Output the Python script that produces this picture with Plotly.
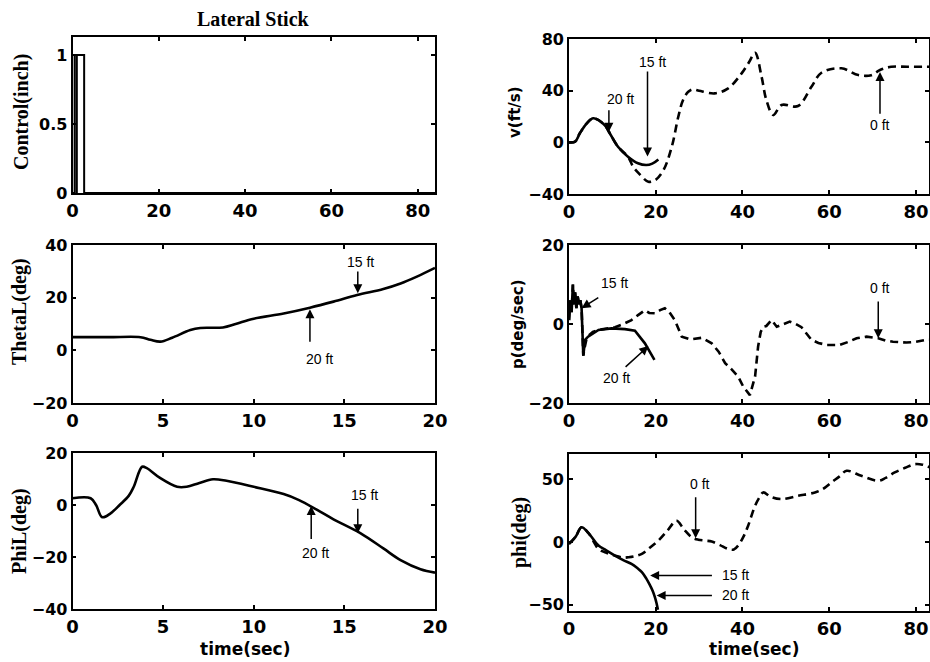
import plotly.graph_objects as go

# ---- data -------------------------------------------------------------
# lateral stick input (inch)
t_ctrl = [0, 0.5, 0.5, 1.0, 1.0, 1.0, 2.7, 2.7, 84]
ctrl = [0, 0, 1, 1, 0, 1, 1, 0, 0]

# lateral velocity v (ft/s)
t_v0 = [0, 1.4, 2.5, 4.1, 5.6, 8.2, 9.2, 11.3, 13.6, 14.8, 16.1, 18.3, 19.9, 21.8, 23.7,
        25.2, 26.3, 27.5, 28.5, 30, 33.6, 36.7, 39.8, 41.5, 42.9, 44.4, 45.5, 47.1, 49,
        52.8, 55.9, 58.2, 62.8, 66.7, 69.7, 71.7, 74.3, 78, 83.2]
v0 = [0, 0.5, 7, 14.7, 18.6, 13.4, 8.2, -3.4, -11.1, -18.9, -24, -30.5, -29.2, -21.4, -3.4,
      19.8, 32.8, 39.2, 41, 40, 37.9, 41.8, 53.4, 62, 69.4, 50.8, 32.8, 21.1, 28.9,
      28.1, 43, 53.9, 57.3, 52.1, 52, 56, 58.5, 58.5, 58.5]
t_v20 = [0, 1.4, 2.5, 4.1, 5.6, 8.2, 9.2, 11.3, 13.6, 15.9, 17.8, 19.2, 20.6]
v20 = [0, 0.5, 7, 14.7, 18.6, 13.4, 8.2, -3.4, -11.1, -16.2, -17.6, -16.5, -13.2]

# load pitch angle ThetaL (deg)
t_th = [0, 2, 3.75, 4.3, 4.85, 5.5, 6.5, 7.05, 8.3, 9, 10, 11.65, 13.1, 14.4, 15.7,
        17.15, 18.1, 19, 20]
theta_l = [5, 5, 5, 4, 3.3, 4.8, 7.7, 8.5, 8.7, 10, 12, 14, 16.2, 18.5, 21,
           23.3, 25.4, 28, 31.3]

# roll rate p (deg/sec)
t_p0 = [0, 0.3, 0.6, 0.9, 1.1, 1.4, 1.7, 2.0, 2.3, 2.6, 2.9, 3.1, 3.3, 3.6, 4.0, 4.4,
        5.5, 6.8, 8.5, 10.6, 12.5, 14.4, 16, 17.5, 18.5, 19.8, 21, 22.1, 23, 24.4, 26,
        27.9, 30.6, 32.9, 34.5, 36, 37.5, 39, 40.2, 41.7, 42.9, 43.6, 44.2, 44.8, 45.5,
        46.7, 47.9, 49.5, 50.9, 52.3, 53.6, 55.9, 57.5, 59.4, 62.4, 64.5, 66.3, 68.6,
        71.3, 73, 74.7, 77.8, 80, 82.4, 83.2]
p0 = [1, 6, 3, 10, 5, 8, 4, 7, 5, 6, 4, -3, -8, -6, -4, -3,
      -2, -1.5, -1.2, -0.8, 0, 1, 2.3, 3.5, 2.8, 2.7, 3.5, 4, 3.2, 1, -3.2,
      -3.9, -3.5, -4.9, -7, -9.9, -11.5, -13.3, -15.9, -18, -13.3, -5.7, -2, -0.7, -0.5,
      1, -0.7, 0, 0.6, 0, -0.8, -4, -4.8, -5.3, -5.3, -4.5, -3.6, -3.2,
      -3.6, -4.2, -4.5, -4.7, -4.5, -4, -4]
t_p20 = [0, 0.3, 0.6, 0.9, 1.1, 1.4, 1.7, 2.0, 2.3, 2.6, 2.9, 3.1, 3.3, 3.7, 4.4,
         6.8, 9.8, 12.9, 15.2, 17.5, 19.7]
p20 = [1, 6, 3, 10, 5, 8, 4, 7, 5, 6, 4, -3, -8, -4, -3.2,
       -1.5, -1.1, -1.3, -1.7, -4.9, -9.1]

# load roll angle PhiL (deg)
t_phl = [0, 1, 1.3, 1.64, 2.1, 2.6, 3.1, 3.38, 3.84, 4.1, 4.85, 5.77, 6.3, 7, 7.75,
         8.5, 10, 11.65, 12.5, 13.5, 14.4, 15.9, 17.15, 18.1, 19.2, 20]
phi_l = [2.6, 2.6, 0, -4.7, -3.2, 0, 3.5, 7, 14.7, 14.2, 10.3, 7, 7, 8.5, 9.9,
         9.3, 7, 4.2, 1.9, -1.9, -5.5, -10.9, -16.7, -21.2, -24.7, -26]

# roll angle phi (deg)
t_phi0 = [0, 1.5, 2.9, 4.5, 6.8, 8.5, 10.6, 12.5, 13.7, 15, 16.8, 18.7, 20.6, 22.7,
          24.8, 26.5, 28.3, 29.8, 31.5, 32.9, 34.8, 36.7, 38, 39, 40.2, 41.3, 42.9,
          44, 44.8, 46.5, 49, 52.8, 56.7, 58.5, 60.5, 62.3, 64, 67.4, 71.3, 73, 75.1,
          77.5, 79.7, 81.5, 83.2]
phi0 = [-1.6, 4, 11.7, 7, -5.6, -8.5, -11, -12.5, -12.2, -11.5, -9.5, -4.5, 1, 9,
        16.9, 10, 3.7, 1.8, 1, 0.3, -2.5, -5.6, -6, -2.9, 4, 12.9, 28.8,
        36, 39.4, 36, 34.1, 36.7, 39.4, 42, 47.4, 52, 56.6, 52.6, 48.7, 51, 55.3,
        59, 61.9, 61.5, 59.3]
t_phi20 = [0, 1.5, 2.9, 4.5, 6.8, 8.5, 10.6, 12.5, 14.4, 15.8, 16.8, 17.8, 18.7,
           19.3, 19.8, 20.2, 20.5]
phi20 = [-1.6, 4, 11.7, 7, -2.9, -6.5, -10.9, -14.5, -17.5, -21, -24, -29, -34.7,
         -39, -43.9, -49, -54]

# ---- figure -----------------------------------------------------------
W, H = 930, 662
BLACK = "black"
SOLID = dict(color=BLACK, width=2.6)
DASHED = dict(color=BLACK, width=2.6, dash="8px,5px")

fig = go.Figure()


def add(x, y, ax, line, shape="spline"):
    fig.add_trace(go.Scatter(x=x, y=y, mode="lines", line=dict(line, shape=shape),
                             xaxis="x" + ax, yaxis="y" + ax, showlegend=False,
                             hoverinfo="skip"))


add(t_ctrl, ctrl, "", dict(color=BLACK, width=2), shape="linear")
add(t_v0, v0, "2", DASHED)
add(t_v20, v20, "2", SOLID)
add(t_th, theta_l, "3", SOLID)
add(t_p0, p0, "4", DASHED, shape="linear")
add(t_p20, p20, "4", SOLID, shape="linear")
add(t_phl, phi_l, "5", SOLID)
add(t_phi0, phi0, "6", DASHED)
add(t_phi20, phi20, "6", SOLID)


def px_dom(a, b):
    return [a / W, b / W]


def py_dom(top, bottom):
    return [1 - bottom / H, 1 - top / H]


tick_x = dict(family="DejaVu Sans", size=18, color=BLACK, weight="bold")
tick_y = dict(family="DejaVu Sans", size=16, color=BLACK, weight="bold")
COMMON = dict(showline=True, linecolor=BLACK, linewidth=1.8, mirror="allticks",
              ticks="inside", ticklen=4, tickwidth=1.5, tickcolor=BLACK,
              showgrid=False, zeroline=False, fixedrange=True, automargin=False)


def xax(dom, rng, tv, anchor):
    return dict(COMMON, domain=dom, range=rng, tickvals=tv, anchor=anchor,
                tickfont=tick_x)


def yax(dom, rng, tv, anchor, tt=None):
    d = dict(COMMON, domain=dom, range=rng, tickvals=tv, anchor=anchor,
             tickfont=tick_y)
    if tt:
        d["ticktext"] = tt
    return d


LX = px_dom(72.5, 435)
RX = px_dom(569, 929)
t80 = [0, 20, 40, 60, 80]
t20 = [0, 5, 10, 15, 20]

fig.update_layout(
    width=W, height=H, margin=dict(l=0, r=0, t=0, b=0, autoexpand=False),
    paper_bgcolor="white", plot_bgcolor="white",
    xaxis=xax(LX, [0, 84], t80, "y"),
    yaxis=yax(py_dom(37, 193), [0, 1.13], [0, 0.5, 1], "x", ["0", "0.5", "1"]),
    xaxis2=xax(RX, [0, 83], t80, "y2"),
    yaxis2=yax(py_dom(39, 194), [-40, 80], [-40, 0, 40, 80], "x2"),
    xaxis3=xax(LX, [0, 20], t20, "y3"),
    yaxis3=yax(py_dom(245, 403), [-20, 40], [-20, 0, 20, 40], "x3"),
    xaxis4=xax(RX, [0, 83], t80, "y4"),
    yaxis4=yax(py_dom(245, 403), [-20, 20], [-20, 0, 20], "x4"),
    xaxis5=xax(LX, [0, 20], t20, "y5"),
    yaxis5=yax(py_dom(453, 609), [-40, 20], [-40, -20, 0, 20], "x5"),
    xaxis6=xax(RX, [0, 83], t80, "y6"),
    yaxis6=yax(py_dom(454, 611), [-55, 70], [-50, 0, 50], "x6"),
)

ann = []
LBL = dict(family="Liberation Sans", size=14, color=BLACK)


def arrow(ax_id, x, y, tx, ty):
    ann.append(dict(xref="x" + ax_id, yref="y" + ax_id, axref="x" + ax_id,
                    ayref="y" + ax_id, x=x, y=y, ax=tx, ay=ty, text="",
                    showarrow=True, arrowhead=2, arrowsize=1.2, arrowwidth=1.5,
                    arrowcolor=BLACK))


def label(ax_id, x, y, text):
    ann.append(dict(xref="x" + ax_id, yref="y" + ax_id, x=x, y=y, text=text,
                    showarrow=False, font=LBL))


# v panel
arrow("2", 18.1, -11, 18.1, 56)
label("2", 19.3, 62, "15 ft")
arrow("2", 9.2, 8.2, 9.2, 26)
label("2", 11.8, 33.3, "20 ft")
arrow("2", 71.7, 54.5, 71.7, 21)
label("2", 71.7, 13.4, "0 ft")
# ThetaL panel
arrow("3", 15.74, 21.7, 15.74, 30.5)
label("3", 15.9, 33.7, "15 ft")
arrow("3", 13.1, 15.6, 13.1, 2.7)
label("3", 13.6, -3.2, "20 ft")
# p panel
arrow("4", 2.9, 4, 7.1, 6.9)
label("4", 10.6, 10.3, "15 ft")
arrow("4", 18.3, -5.6, 12.7, -11.2)
label("4", 11.0, -13.7, "20 ft")
arrow("4", 71.3, -3.6, 71.3, 6.1)
label("4", 71.8, 9.0, "0 ft")
# PhiL panel
arrow("5", 15.74, -10.9, 15.74, -0.9)
label("5", 16.1, 3.8, "15 ft")
arrow("5", 13.17, -0.4, 13.17, -13.7)
label("5", 13.4, -18.6, "20 ft")
# phi panel
arrow("6", 29.2, 2.9, 29.2, 36.7)
label("6", 30.2, 46, "0 ft")
arrow("6", 18.7, -26.7, 33.3, -26.7)
label("6", 38.3, -26.7, "15 ft")
arrow("6", 20.2, -42.6, 33.3, -42.6)
label("6", 38.3, -42.6, "20 ft")

SERIF = dict(family="Liberation Serif", size=20, color=BLACK, weight="bold")
SANS = dict(family="DejaVu Sans", size=15, color=BLACK, weight="bold")


def paper_text(xp, yp, text, font, angle=0):
    ann.append(dict(xref="paper", yref="paper", x=xp / W, y=1 - yp / H, text=text,
                    showarrow=False, font=font, textangle=angle,
                    xanchor="center", yanchor="middle"))


paper_text(253, 19, "Lateral Stick", dict(SERIF, size=20))
paper_text(21, 112, "Control(inch)", SERIF, -90)
paper_text(19, 312, "ThetaL(deg)", SERIF, -90)
paper_text(19, 531, "PhiL(deg)", SERIF, -90)
paper_text(515, 112, "v(ft/s)", SANS, -90)
paper_text(518, 324, "p(deg/sec)", SANS, -90)
paper_text(519, 533, "phi(deg)", SERIF, -90)
paper_text(245, 649, "time(sec)", dict(SANS, size=17))
paper_text(754, 649, "time(sec)", dict(SANS, size=17))

fig.update_layout(annotations=ann)
fig.write_html("out.html")
